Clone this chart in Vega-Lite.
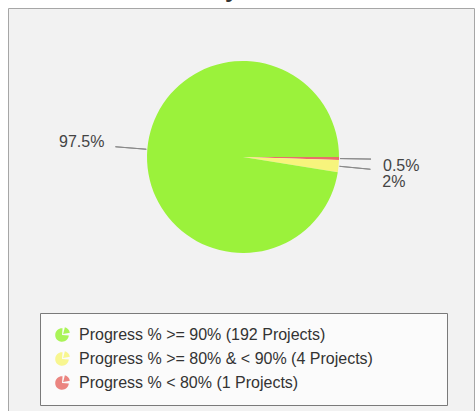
{
  "$schema": "https://vega.github.io/schema/vega-lite/v6.json",
  "width": 466,
  "height": 404,
  "autosize": {"type": "none"},
  "padding": {"left": 8, "top": 8, "right": 1, "bottom": 0},
  "background": "white",
  "view": {"fill": "#f2f2f2", "stroke": "#a6a6a6", "strokeWidth": 1},
  "title": {"text": "Status by Schedule", "fontSize": 24, "font": "Liberation Sans", "fontWeight": "bold", "color": "#333333", "offset": 6, "anchor": "middle"},
  "config": {
    "text": {"font": "Liberation Sans"}
  },
  "data": {"values": [
    {"category": "Progress % < 80% (1 Projects)", "projects": 1, "label": "0.5%", "order": 1},
    {"category": "Progress % >= 80% & < 90% (4 Projects)", "projects": 4, "label": "2%", "order": 2},
    {"category": "Progress % >= 90% (192 Projects)", "projects": 192, "label": "97.5%", "order": 3}
  ]},
  "transform": [
    {"window": [{"op": "sum", "field": "projects", "as": "cum"}], "sort": [{"field": "order"}], "frame": [null, 0]},
    {"calculate": "datum.cum - datum.projects / 2", "as": "mid"},
    {"calculate": "datum.mid + 0.02", "as": "mid2"}
  ],
  "layer": [
    {
      "mark": {"type": "arc", "outerRadius": 96, "xOffset": 2, "yOffset": -53, "strokeWidth": 0},
      "encoding": {
        "theta": {"field": "projects", "type": "quantitative", "stack": true, "scale": {"range": [1.5708, 7.854]}},
        "order": {"field": "order", "type": "quantitative", "sort": "ascending"},
        "color": {
          "field": "category", "type": "nominal",
          "scale": {
            "domain": ["Progress % >= 90% (192 Projects)", "Progress % >= 80% & < 90% (4 Projects)", "Progress % < 80% (1 Projects)"],
            "range": ["#9bf23b", "#f7f47c", "#e8706a"]
          },
          "legend": {
            "title": null,
            "orient": "none",
            "legendX": 32,
            "legendY": 305,
            "direction": "vertical",
            "fillColor": "#fbfbfb",
            "strokeColor": "#7a7a7a",
            "padding": 14,
            "rowPadding": 8,
            "labelFont": "Liberation Sans",
            "labelFontSize": 16,
            "labelColor": "#333333",
            "labelLimit": 500,
            "labelOffset": 9,
            "labelExpr": "datum.label + '\u2800\u2800\u2800\u2800\u2800'",
            "symbolSize": 256,
            "symbolStrokeWidth": 0,
            "symbolOpacity": 0.85,
            "symbolType": "M0,0 L0.85,0.07 A0.85,0.85 0 1,1 0.07,-0.85 Z M0.14,-0.14 L0.36,-0.96 A0.85,0.85 0 0,1 0.98,-0.29 Z"
          }
        }
      }
    },
    {
      "mark": {"type": "arc", "innerRadius": 97, "outerRadius": 128, "xOffset": 2, "yOffset": -53, "stroke": "#8a8a8a", "strokeWidth": 1, "fillOpacity": 0},
      "encoding": {
        "theta": {"field": "mid", "type": "quantitative", "stack": null},
        "theta2": {"field": "mid2"}
      }
    },
    {
      "transform": [{"filter": "datum.label == '97.5%'"}],
      "mark": {"type": "text", "radius": 139, "xOffset": 2, "yOffset": -53, "dy": -4, "align": "right", "baseline": "middle", "fontSize": 16, "color": "#444444"},
      "encoding": {
        "theta": {"field": "mid", "type": "quantitative", "stack": null},
        "text": {"field": "label"}
      }
    },
    {
      "transform": [{"filter": "datum.label == '0.5%'"}],
      "mark": {"type": "text", "radius": 140, "xOffset": 2, "yOffset": -53, "dy": 7, "align": "left", "baseline": "middle", "fontSize": 16, "color": "#444444"},
      "encoding": {
        "theta": {"field": "mid", "type": "quantitative", "stack": null},
        "text": {"field": "label"}
      }
    },
    {
      "transform": [{"filter": "datum.label == '2%'"}],
      "mark": {"type": "text", "radius": 140, "xOffset": 2, "yOffset": -53, "dy": 12, "align": "left", "baseline": "middle", "fontSize": 16, "color": "#444444"},
      "encoding": {
        "theta": {"field": "mid", "type": "quantitative", "stack": null},
        "text": {"field": "label"}
      }
    }
  ]
}
